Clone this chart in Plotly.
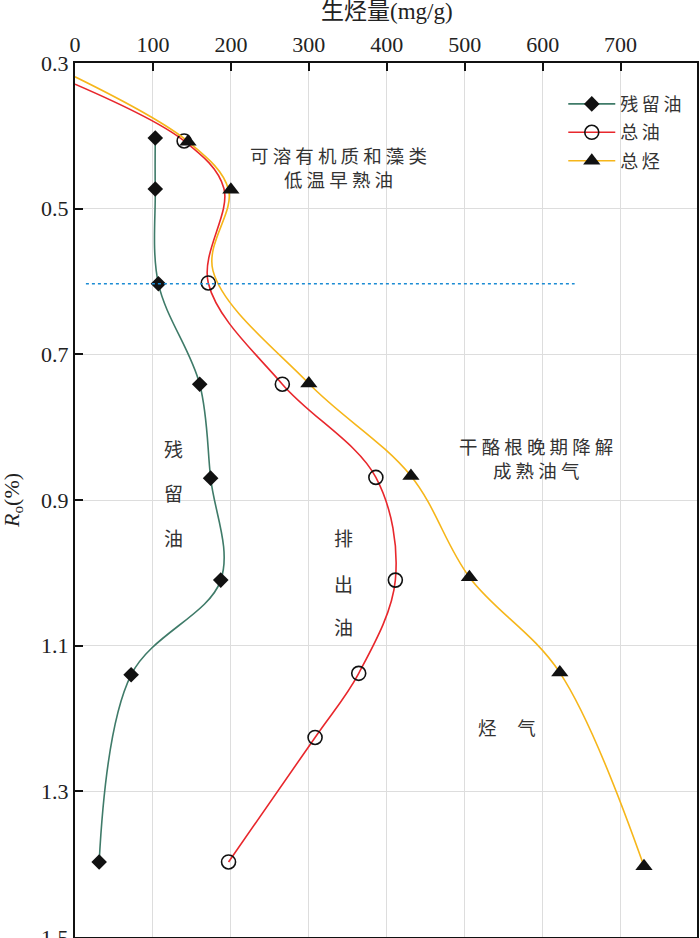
import plotly.graph_objects as go

# ---------------- data ----------------
# 残留油 (residual oil)
ro_residual = [0.403, 0.473, 0.603, 0.741, 0.870, 1.010, 1.140, 1.397]
residual_oil = [103, 103, 107, 160, 174, 187, 72, 31]

# 总油 (total oil) measured points
ro_oil = [0.407, 0.602, 0.741, 0.869, 1.010, 1.138, 1.226, 1.397]
total_oil = [140, 171, 266, 386, 411, 364, 308, 197]
# 总油 curve vertices (curve passes through these; includes unmarked start and bend)
ro_oil_curve = [0.329, 0.407, 0.472, 0.602, 0.741, 0.869, 1.010, 1.138, 1.226, 1.397]
total_oil_curve = [0, 140, 191, 171, 266, 386, 411, 364, 308, 197]

# 总烃 (total hydrocarbon) measured points
ro_hc = [0.408, 0.474, 0.740, 0.867, 1.006, 1.137, 1.403]
total_hc = [145, 200, 300, 431, 506, 622, 730]
ro_hc_curve = [0.319, 0.408, 0.474, 0.585, 0.740, 0.867, 1.006, 1.137, 1.403]
total_hc_curve = [0, 145, 197, 177, 300, 431, 506, 622, 730]

# dotted boundary line
boundary_ro = 0.603
boundary_x = [14, 641]

x_ticks = [0, 100, 200, 300, 400, 500, 600, 700]
y_ticks = [0.3, 0.5, 0.7, 0.9, 1.1, 1.3, 1.5]

names = ["残\u2009留\u2009油", "总\u2009油", "总\u2009烃"]
colors = ["#3f7b69", "#e8272c", "#f6b61a"]

FONT = "'Liberation Serif', 'Times New Roman', 'Noto Sans CJK SC', serif"
CJK = "'Noto Sans CJK SC', sans-serif"
TXT = "#333333"

fig = go.Figure()

# residual oil
fig.add_trace(go.Scatter(
    x=residual_oil, y=ro_residual, mode="lines+markers", name=names[0],
    line=dict(color=colors[0], width=1.6, shape="spline", smoothing=1.0),
    marker=dict(symbol="diamond", size=12, color="#111111"),
    legendgroup="g1"))

# total oil: curve + markers + legend entry
fig.add_trace(go.Scatter(
    x=total_oil_curve, y=ro_oil_curve, mode="lines",
    line=dict(color=colors[1], width=1.6, shape="spline", smoothing=1.0),
    showlegend=False, hoverinfo="skip"))
fig.add_trace(go.Scatter(
    x=total_oil, y=ro_oil, mode="markers", showlegend=False,
    marker=dict(symbol="circle-open", size=14, color="#111111", line=dict(width=1.6))))
fig.add_trace(go.Scatter(
    x=[None], y=[None], mode="lines+markers", name=names[1], legendgroup="g2",
    line=dict(color=colors[1], width=1.6),
    marker=dict(symbol="circle-open", size=14, color="#111111", line=dict(width=1.6))))

# total hydrocarbon
fig.add_trace(go.Scatter(
    x=total_hc_curve, y=ro_hc_curve, mode="lines",
    line=dict(color=colors[2], width=1.6, shape="spline", smoothing=1.0),
    showlegend=False, hoverinfo="skip"))
fig.add_trace(go.Scatter(
    x=total_hc, y=ro_hc, mode="markers", showlegend=False,
    marker=dict(symbol="triangle-up", size=15, color="#111111")))
fig.add_trace(go.Scatter(
    x=[None], y=[None], mode="lines+markers", name=names[2], legendgroup="g3",
    line=dict(color=colors[2], width=1.6),
    marker=dict(symbol="triangle-up", size=15, color="#111111")))

# dotted boundary
fig.add_shape(type="line", xref="x", yref="y", x0=boundary_x[0], x1=boundary_x[1],
              y0=boundary_ro, y1=boundary_ro,
              line=dict(color="#1c8cd4", width=1.5, dash="dot"), layer="above")

ann = []
# region labels (horizontal, two-line blocks)
horiz = [
    ("可 溶 有 机 质 和 藻 类<br>低 温 早 熟 油", 338, 0.443),
    ("干 酪 根 晚 期 降 解<br>成 熟 油 气", 592, 0.843),
    ("烃\u00a0\u00a0\u00a0\u00a0\u00a0气", 554, 1.211),
]
for t, xv, yv in horiz:
    ann.append(dict(text=t, x=xv, y=yv, xref="x", yref="y", showarrow=False,
                    align="center",
                    font=dict(family=CJK, size=18.5, color=TXT)))
# vertical labels
vert = [
    ("残留油", 126.5, [0.829, 0.890, 0.951]),
    ("排出油", 344.5, [0.951, 1.015, 1.073]),
]
for word, xv, ys in vert:
    for ch, yv in zip(word, ys):
        ann.append(dict(text=ch, x=xv, y=yv, xref="x", yref="y", showarrow=False,
                        font=dict(family=CJK, size=19, color=TXT)))
# axis titles
ann.append(dict(text="生烃量(mg/g)", x=0.5016, y=1.0585, xref="paper", yref="paper",
                showarrow=False, yanchor="middle",
                font=dict(family=FONT, size=23, color="#222222")))
ann.append(dict(text="<i>R</i><sub>o</sub>(%)", x=-0.1, y=0.4997, xref="paper", yref="paper",
                showarrow=False, textangle=-90, xanchor="center", yanchor="middle",
                font=dict(family=FONT, size=22, color="#222222")))

fig.update_layout(
    width=700, height=938,
    margin=dict(l=75, r=3, t=63, b=1),
    paper_bgcolor="white", plot_bgcolor="white",
    showlegend=True,
    legend=dict(x=0.785, y=0.974, xanchor="left", yanchor="top",
                bgcolor="rgba(0,0,0,0)", borderwidth=0, tracegroupgap=2,
                itemwidth=47,
                font=dict(family=CJK, size=18, color=TXT)),
    annotations=ann,
)
fig.update_xaxes(
    range=[0, 798], side="top", tickvals=x_ticks, ticktext=[str(v) for v in x_ticks],
    ticks="inside", ticklen=8, tickwidth=1.5, tickcolor="#111111",
    showgrid=True, gridcolor="#dddddd", gridwidth=1, automargin=False,
    ticklabeloverflow="allow",
    showline=True, linecolor="#111111", linewidth=2, mirror=True,
    zeroline=False, tickfont=dict(family=FONT, size=22, color="#222222"))
fig.update_yaxes(
    range=[1.5, 0.3], tickvals=y_ticks, ticktext=[f"{v:.1f}" for v in y_ticks],
    ticks="inside", ticklen=8, tickwidth=1.5, tickcolor="#111111",
    showgrid=True, gridcolor="#dddddd", gridwidth=1, automargin=False,
    ticklabeloverflow="allow",
    showline=True, linecolor="#111111", linewidth=2, mirror=True,
    zeroline=False, tickfont=dict(family=FONT, size=22, color="#222222"))

fig.write_html("out.html",
               config={"displayModeBar": False},
               post_script="document.body.style.margin='0';document.body.style.overflow='hidden';")
